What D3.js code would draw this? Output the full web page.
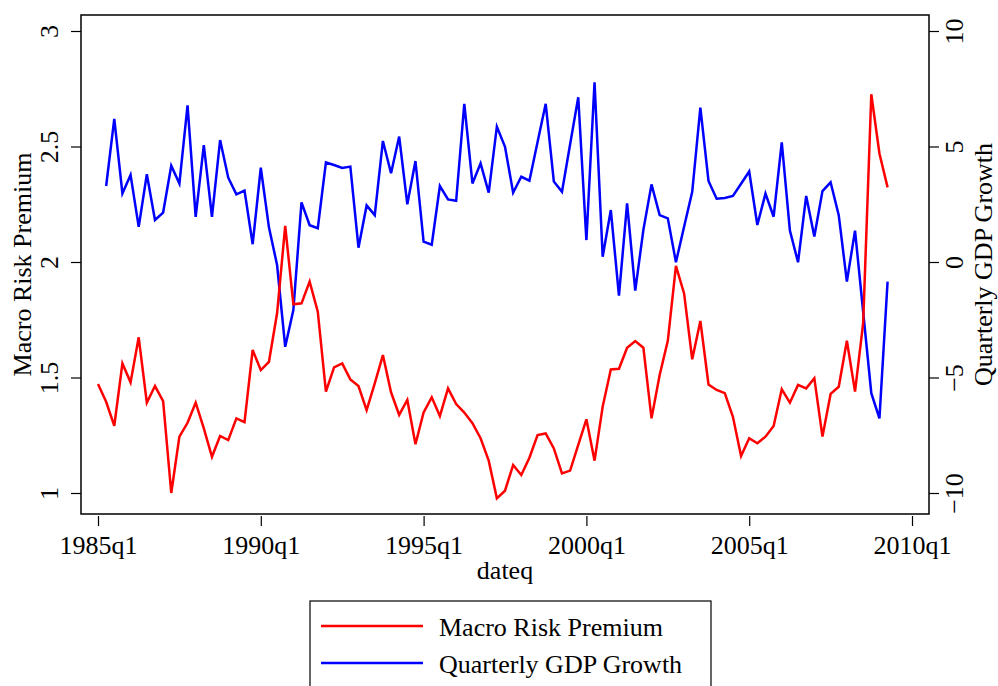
<!DOCTYPE html>
<html>
<head>
<meta charset="utf-8">
<script src="https://cdn.jsdelivr.net/npm/d3@7"></script>
<style>
  body { margin: 0; background: #fff; }
  text { font-family: "Liberation Serif", "DejaVu Serif", serif; fill: #000; }
</style>
</head>
<body>
<svg id="chart"></svg>
<script>
// quarters run 1985q1 .. 2009q2; GDP growth starts one quarter later
const startYear = 1985;
const premium = [
  1.472, 1.395, 1.291, 1.561, 1.479, 1.674, 1.391, 1.463, 1.398, 1.000,
  1.244, 1.304, 1.391, 1.280, 1.157, 1.247, 1.229, 1.323, 1.307, 1.619,
  1.532, 1.568, 1.778, 2.156, 1.817, 1.821, 1.915, 1.785, 1.439, 1.544,
  1.561, 1.492, 1.463, 1.359, 1.475, 1.597, 1.436, 1.338, 1.403, 1.211,
  1.349, 1.414, 1.333, 1.453, 1.385, 1.348, 1.302, 1.237, 1.140, 0.977,
  1.010, 1.121, 1.078, 1.153, 1.251, 1.258, 1.193, 1.085, 1.097, 1.208,
  1.319, 1.140, 1.374, 1.535, 1.538, 1.629, 1.658, 1.629, 1.323, 1.511,
  1.659, 1.983, 1.864, 1.579, 1.745, 1.470, 1.446, 1.432, 1.330, 1.160,
  1.237, 1.215, 1.244, 1.290, 1.449, 1.391, 1.468, 1.453, 1.497, 1.244,
  1.429, 1.460, 1.659, 1.439, 1.735, 2.726, 2.470, 2.323
];
const gdpGrowth = [
  3.29, 6.20, 2.97, 3.77, 1.52, 3.80, 1.82, 2.14, 4.17, 3.40,
  6.78, 1.95, 5.06, 1.95, 5.28, 3.65, 2.93, 3.09, 0.77, 4.08,
  1.50, -0.13, -3.67, -2.08, 2.58, 1.59, 1.46, 4.31, 4.20, 4.07,
  4.13, 0.62, 2.45, 2.03, 5.24, 3.84, 5.43, 2.50, 4.37, 0.88,
  0.75, 3.29, 2.71, 2.65, 6.85, 3.40, 4.27, 3.00, 5.86, 4.99,
  3.00, 3.69, 3.52, 5.19, 6.85, 3.48, 3.04, 5.10, 7.13, 0.95,
  7.78, 0.23, 2.25, -1.46, 2.54, -1.24, 1.39, 3.36, 2.03, 1.89,
  -0.01, 1.53, 3.04, 6.68, 3.51, 2.74, 2.77, 2.86, 3.39, 3.92,
  1.60, 2.96, 1.96, 5.18, 1.36, -0.01, 2.86, 1.10, 3.07, 3.45,
  2.03, -0.85, 1.36, -2.16, -5.68, -6.77, -0.85
];
const xTicks = [1985, 1990, 1995, 2000, 2005, 2010];
const leftTicks = [1, 1.5, 2, 2.5, 3];
const rightTicks = [-10, -5, 0, 5, 10];
const legendItems = [
  { name: "Macro Risk Premium", color: "#ff0000" },
  { name: "Quarterly GDP Growth", color: "#0000ff" }
];

const width = 998, height = 686;
const box = { left: 81, right: 929, top: 15, bottom: 514 };
const fontSize = 26;

const svg = d3.select("#chart").attr("width", width).attr("height", height);

const x = d3.scaleLinear().domain([1985, 2010]).range([98, 912]);
const yL = d3.scaleLinear().domain([1, 3]).range([493, 31]);
const yR = d3.scaleLinear().domain([-10, 10]).range([493, 31]);

const premData = premium.map((v, i) => ({ t: startYear + i / 4, v }));
const gdpData = gdpGrowth.map((v, i) => ({ t: startYear + (i + 1) / 4, v }));

// lines
svg.append("path")
  .datum(gdpData)
  .attr("fill", "none")
  .attr("stroke", "#0000ff")
  .attr("stroke-width", 2.5)
  .attr("d", d3.line().x(d => x(d.t)).y(d => yR(d.v)));

svg.append("path")
  .datum(premData)
  .attr("fill", "none")
  .attr("stroke", "#ff0000")
  .attr("stroke-width", 2.5)
  .attr("d", d3.line().x(d => x(d.t)).y(d => yL(d.v)));

// plot box
svg.append("rect")
  .attr("x", box.left).attr("y", box.top)
  .attr("width", box.right - box.left).attr("height", box.bottom - box.top)
  .attr("fill", "none").attr("stroke", "#000").attr("stroke-width", 1.5);

// x axis
const gx = svg.append("g").attr("transform", `translate(0,${box.bottom + 2})`)
  .call(d3.axisBottom(x).tickValues(xTicks).tickSize(10).tickSizeOuter(0).tickFormat(d => d + "q1"));
gx.select(".domain").remove();
gx.selectAll("line").attr("stroke", "#000").attr("stroke-width", 1.2);
gx.selectAll("text").attr("font-size", fontSize).attr("font-family", "Liberation Serif")
  .attr("y", 0).attr("dy", 0).attr("transform", "translate(0,38)");

svg.append("text").attr("x", (box.left + box.right) / 2).attr("y", 579)
  .attr("text-anchor", "middle").attr("font-size", fontSize).text("dateq");

// left axis
const gl = svg.append("g").attr("transform", `translate(${box.left},0)`)
  .call(d3.axisLeft(yL).tickValues(leftTicks).tickSize(10).tickSizeOuter(0).tickFormat(d3.format("")));
gl.select(".domain").remove();
gl.selectAll("line").attr("stroke", "#000").attr("stroke-width", 1.2);
gl.selectAll("text").attr("font-size", fontSize).attr("font-family", "Liberation Serif")
  .attr("x", null).attr("dy", null).attr("text-anchor", "middle")
  .attr("transform", "translate(-23,0) rotate(-90)");

svg.append("text")
  .attr("transform", `translate(31,${(box.top + box.bottom) / 2}) rotate(-90)`)
  .attr("text-anchor", "middle").attr("font-size", fontSize).text("Macro Risk Premium");

// right axis
const gr = svg.append("g").attr("transform", `translate(${box.right},0)`)
  .call(d3.axisRight(yR).tickValues(rightTicks).tickSize(10).tickSizeOuter(0).tickFormat(d3.format("")));
gr.select(".domain").remove();
gr.selectAll("line").attr("stroke", "#000").attr("stroke-width", 1.2);
gr.selectAll("text").attr("font-size", fontSize).attr("font-family", "Liberation Serif")
  .attr("x", null).attr("dy", null).attr("text-anchor", "middle")
  .attr("transform", "translate(34,0) rotate(-90)");

svg.append("text")
  .attr("transform", `translate(992,${(box.top + box.bottom) / 2}) rotate(-90)`)
  .attr("text-anchor", "middle").attr("font-size", fontSize).text("Quarterly GDP Growth");

// legend
const lg = svg.append("g");
lg.append("rect").attr("x", 310).attr("y", 601).attr("width", 401).attr("height", 100)
  .attr("fill", "#fff").attr("stroke", "#000").attr("stroke-width", 1.2);
const item = lg.selectAll(".item").data(legendItems).enter().append("g")
  .attr("transform", (d, i) => `translate(0,${626 + i * 37})`);
item.append("line").attr("x1", 321).attr("x2", 423).attr("y1", 0).attr("y2", 0)
  .attr("stroke", d => d.color).attr("stroke-width", 2.5);
item.append("text").attr("x", 439).attr("y", 10).attr("font-size", fontSize).text(d => d.name);
</script>
</body>
</html>
